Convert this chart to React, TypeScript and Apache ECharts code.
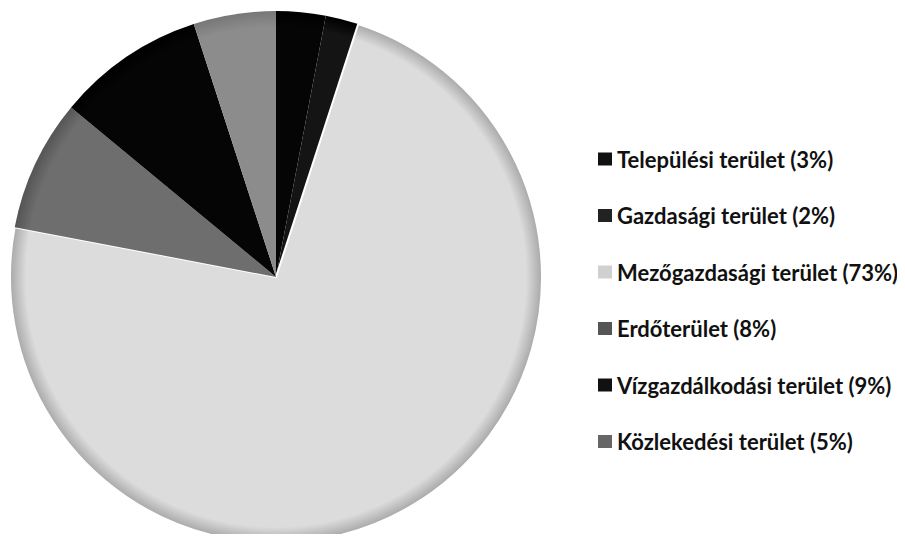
import React, { useEffect, useRef } from "react";
import * as echarts from "echarts";

const categories = [
  "Települési terület",
  "Gazdasági terület",
  "Mezőgazdasági terület",
  "Erdőterület",
  "Vízgazdálkodási terület",
  "Közlekedési terület",
];
const values = [3, 2, 73, 8, 9, 5];
const colors = ["#050505", "#141414", "#dcdcdc", "#6e6e6e", "#050505", "#8c8c8c"];
const legendColors = ["#111111", "#222222", "#d0d0d0", "#555555", "#111111", "#666666"];

const CX = 268;
const CY = 269;
const R = 266;

export default function App() {
  const ref = useRef<HTMLDivElement>(null);
  useEffect(() => {
    if (!ref.current) return;
    const chart = echarts.init(ref.current, undefined, { renderer: "svg" });
    const names = categories.map((c, i) => `${c} (${values[i]}%)`);
    const grad = (c: string, edge: string) => ({
      type: "radial",
      x: CX,
      y: CY,
      r: R,
      global: true,
      colorStops: [
        { offset: 0, color: c },
        { offset: 0.94, color: c },
        { offset: 1, color: edge },
      ],
    });
    const edges = ["#000", "#000", "#a8a8a8", "#555", "#000", "#777"];
    chart.setOption({
      animation: false,
      backgroundColor: "#ffffff",
      legend: {
        orient: "vertical",
        left: 585,
        top: 135,
        itemWidth: 14,
        itemHeight: 13,
        itemGap: 34.5,
        icon: "rect",
        textStyle: {
          fontFamily: "Lato",
          fontWeight: "bold",
          fontSize: 22,
          color: "#111",
        },
        data: names.map((n, i) => ({
          name: n,
          itemStyle: { color: legendColors[i], borderWidth: 0 },
        })),
      },
      series: [
        {
          type: "pie",
          center: [CX, CY],
          radius: R,
          startAngle: 90,
          clockwise: true,
          label: { show: false },
          labelLine: { show: false },
          emphasis: { disabled: true },
          data: names.map((n, i) => ({
            name: n,
            value: values[i],
            itemStyle: {
              color: grad(colors[i], edges[i]),
              borderColor: i === 2 ? "#ffffff" : colors[i],
              borderWidth: i === 2 ? 2 : 0,
            },
          })),
        },
      ],
    });
    return () => chart.dispose();
  }, []);
  return <div ref={ref} style={{ width: 897, height: 526 }} />;
}
